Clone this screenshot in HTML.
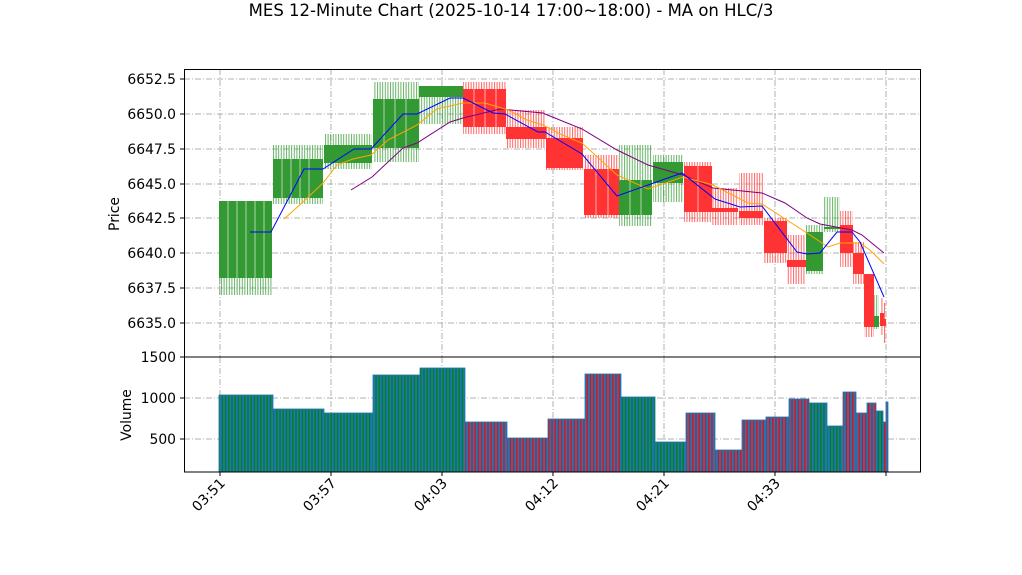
<!DOCTYPE html>
<html><head><meta charset="utf-8"><style>
html,body{margin:0;padding:0;background:#fff;}
svg{display:block;font-family:"DejaVu Sans","Liberation Sans",sans-serif;}
</style></head><body>
<svg width="1022" height="575" viewBox="0 0 1022 575" xmlns="http://www.w3.org/2000/svg">
<defs>
<pattern id="wg" width="2.6" height="10" patternUnits="userSpaceOnUse"><rect x="0" y="0" width="1" height="10" fill="#339933" fill-opacity="0.75"/></pattern>
<pattern id="wr" width="2.6" height="10" patternUnits="userSpaceOnUse"><rect x="0" y="0" width="1" height="10" fill="#ff3333" fill-opacity="0.75"/></pattern>
<pattern id="vg" width="3.2" height="10" patternUnits="userSpaceOnUse"><rect width="3.2" height="10" fill="#1f77b4"/><rect x="1" y="0" width="1.2" height="10" fill="#008000"/></pattern>
<pattern id="vr" width="3.2" height="10" patternUnits="userSpaceOnUse"><rect width="3.2" height="10" fill="#1f77b4"/><rect x="1" y="0" width="1.2" height="10" fill="#ff0000"/></pattern>
</defs>
<text x="511" y="16" text-anchor="middle" font-size="16.5">MES 12-Minute Chart (2025-10-14 17:00~18:00) - MA on HLC/3</text>

<g stroke="#b0b0b0" stroke-width="1" stroke-dasharray="6,2,1,2" fill="none">
<line x1="184" y1="79" x2="920" y2="79"/><line x1="184" y1="114" x2="920" y2="114"/><line x1="184" y1="149" x2="920" y2="149"/><line x1="184" y1="184" x2="920" y2="184"/><line x1="184" y1="218" x2="920" y2="218"/><line x1="184" y1="253" x2="920" y2="253"/><line x1="184" y1="288" x2="920" y2="288"/><line x1="184" y1="323" x2="920" y2="323"/>
<line x1="220" y1="69" x2="220" y2="357"/><line x1="331" y1="69" x2="331" y2="357"/><line x1="442" y1="69" x2="442" y2="357"/><line x1="553" y1="69" x2="553" y2="357"/><line x1="664" y1="69" x2="664" y2="357"/><line x1="775" y1="69" x2="775" y2="357"/><line x1="886" y1="69" x2="886" y2="357"/>
<line x1="184" y1="398" x2="920" y2="398"/><line x1="184" y1="439" x2="920" y2="439"/>
<line x1="220" y1="357" x2="220" y2="472"/><line x1="331" y1="357" x2="331" y2="472"/><line x1="442" y1="357" x2="442" y2="472"/><line x1="553" y1="357" x2="553" y2="472"/><line x1="664" y1="357" x2="664" y2="472"/><line x1="775" y1="357" x2="775" y2="472"/><line x1="886" y1="357" x2="886" y2="472"/>
</g>

<g>
<rect x="219" y="201" width="53" height="94" fill="url(#wg)"/>
<rect x="273" y="145" width="50" height="59" fill="url(#wg)"/>
<rect x="324" y="134" width="48" height="35" fill="url(#wg)"/>
<rect x="373" y="82" width="46" height="80" fill="url(#wg)"/>
<rect x="419" y="86" width="44" height="38" fill="url(#wg)"/>
<rect x="463" y="82" width="43" height="52" fill="url(#wr)"/>
<rect x="506" y="110" width="40" height="38" fill="url(#wr)"/>
<rect x="546" y="127" width="37" height="43" fill="url(#wr)"/>
<rect x="584" y="155" width="35" height="63" fill="url(#wr)"/>
<rect x="619" y="145" width="33" height="81" fill="url(#wg)"/>
<rect x="653" y="155" width="30" height="47" fill="url(#wg)"/>
<rect x="684" y="162" width="28" height="60" fill="url(#wr)"/>
<rect x="712" y="188" width="26" height="37" fill="url(#wr)"/>
<rect x="739" y="173" width="24" height="52" fill="url(#wr)"/>
<rect x="764" y="218" width="23" height="45" fill="url(#wr)"/>
<rect x="787" y="235" width="19" height="49" fill="url(#wr)"/>
<rect x="806" y="225" width="17" height="49" fill="url(#wg)"/>
<rect x="824" y="197" width="16" height="35" fill="url(#wg)"/>
<rect x="840" y="211" width="13" height="56" fill="url(#wr)"/>
<rect x="853" y="242" width="11" height="42" fill="url(#wr)"/>
<rect x="864" y="274" width="10" height="63" fill="url(#wr)"/>
<rect x="874" y="295" width="5" height="34" fill="url(#wg)"/>
<rect x="880" y="298" width="4" height="37" fill="url(#wr)"/>
<rect x="884" y="303" width="2" height="40" fill="url(#wr)"/>
</g>
<g>
<rect x="219" y="201" width="53" height="77" fill="#339933"/>
<rect x="273" y="159" width="50" height="39" fill="#339933"/>
<rect x="324" y="145" width="48" height="18" fill="#339933"/>
<rect x="373" y="99" width="46" height="49" fill="#339933"/>
<rect x="419" y="86" width="44" height="11" fill="#339933"/>
<rect x="463" y="89" width="43" height="38" fill="#ff3333"/>
<rect x="506" y="127" width="40" height="12" fill="#ff3333"/>
<rect x="546" y="138" width="37" height="30" fill="#ff3333"/>
<rect x="584" y="169" width="35" height="46" fill="#ff3333"/>
<rect x="619" y="180" width="33" height="35" fill="#339933"/>
<rect x="653" y="162" width="30" height="21" fill="#339933"/>
<rect x="684" y="166" width="28" height="46" fill="#ff3333"/>
<rect x="712" y="208" width="26" height="4" fill="#ff3333"/>
<rect x="739" y="211" width="24" height="7" fill="#ff3333"/>
<rect x="764" y="221" width="23" height="32" fill="#ff3333"/>
<rect x="787" y="260" width="19" height="7" fill="#ff3333"/>
<rect x="806" y="232" width="17" height="39" fill="#339933"/>
<rect x="824" y="227" width="16" height="2" fill="#339933"/>
<rect x="840" y="225" width="13" height="28" fill="#ff3333"/>
<rect x="853" y="253" width="11" height="21" fill="#ff3333"/>
<rect x="864" y="274" width="10" height="53" fill="#ff3333"/>
<rect x="874" y="316" width="5" height="11" fill="#339933"/>
<rect x="880" y="313" width="4" height="13" fill="#ff3333"/>
<rect x="884" y="319" width="2" height="7" fill="#ff3333"/>
</g>
<g stroke="#fff" stroke-width="1" stroke-opacity="0.6">
<line x1="228" y1="201" x2="228" y2="278"/><line x1="237" y1="201" x2="237" y2="278"/><line x1="246" y1="201" x2="246" y2="278"/><line x1="255" y1="201" x2="255" y2="278"/><line x1="264" y1="201" x2="264" y2="278"/>
<line x1="282" y1="159" x2="282" y2="198"/><line x1="291" y1="159" x2="291" y2="198"/><line x1="300" y1="159" x2="300" y2="198"/><line x1="309" y1="159" x2="309" y2="198"/>
<line x1="384" y1="99" x2="384" y2="148"/><line x1="395" y1="99" x2="395" y2="148"/><line x1="406" y1="99" x2="406" y2="148"/>
<line x1="474" y1="89" x2="474" y2="127"/><line x1="485" y1="89" x2="485" y2="127"/><line x1="496" y1="89" x2="496" y2="127"/>
<line x1="596" y1="169" x2="596" y2="215"/><line x1="608" y1="169" x2="608" y2="215"/>
<line x1="630" y1="180" x2="630" y2="215"/><line x1="641" y1="180" x2="641" y2="215"/>
<line x1="698" y1="166" x2="698" y2="212"/>
</g>

<polyline fill="none" stroke="purple" stroke-width="1" points="351,190 372,177 403,148 417,143 450,122 463,118 500,109 543,113 545,114 582,129 617,150 648,165 683,175 713,188 762,193 785,203 807,218 820,224 852,230 862,235 884,253"/>
<polyline fill="none" stroke="orange" stroke-width="1" points="284,219 303,202 323,183 337,165 353,159 371,155 388,140 417,125 437,109 463,103 485,103 508,110 527,120 543,125 560,134 582,143 617,175 648,189 683,177 713,185 748,203 762,204 807,233 828,247 840,243 860,243 870,250 884,264"/>
<polyline fill="none" stroke="blue" stroke-width="1" points="250,232 271,232 304,169 323,169 354,149 371,149 403,114 417,114 450,98 463,98 493,113 505,114 538,132 545,132 582,154 617,196 682,173 715,199 740,207 762,206 797,252 807,254 820,253 837,232 852,232 860,242 884,297"/>

<g stroke="#1f77b4" stroke-width="0.8">
<rect x="219" y="395" width="54" height="77" fill="url(#vg)"/>
<rect x="273" y="409" width="51" height="63" fill="url(#vg)"/>
<rect x="324" y="413" width="49" height="59" fill="url(#vg)"/>
<rect x="373" y="375" width="47" height="97" fill="url(#vg)"/>
<rect x="420" y="368" width="45" height="104" fill="url(#vg)"/>
<rect x="465" y="422" width="42" height="50" fill="url(#vr)"/>
<rect x="507" y="438" width="41" height="34" fill="url(#vr)"/>
<rect x="548" y="419" width="37" height="53" fill="url(#vr)"/>
<rect x="585" y="374" width="36" height="98" fill="url(#vr)"/>
<rect x="621" y="397" width="34" height="75" fill="url(#vg)"/>
<rect x="655" y="442" width="31" height="30" fill="url(#vg)"/>
<rect x="686" y="413" width="29" height="59" fill="url(#vr)"/>
<rect x="715" y="450" width="27" height="22" fill="url(#vr)"/>
<rect x="742" y="420" width="24" height="52" fill="url(#vr)"/>
<rect x="766" y="417" width="23" height="55" fill="url(#vr)"/>
<rect x="789" y="399" width="20" height="73" fill="url(#vr)"/>
<rect x="809" y="403" width="18" height="69" fill="url(#vg)"/>
<rect x="827" y="426" width="16" height="46" fill="url(#vg)"/>
<rect x="843" y="392" width="13" height="80" fill="url(#vr)"/>
<rect x="856" y="413" width="11" height="59" fill="url(#vr)"/>
<rect x="867" y="403" width="9" height="69" fill="url(#vr)"/>
<rect x="876" y="411" width="7" height="61" fill="url(#vg)"/>
<rect x="883" y="422" width="3" height="50" fill="url(#vr)"/>
<rect x="886" y="402" width="2" height="70" fill="url(#vr)"/>
</g>

<rect x="184.5" y="69.5" width="736" height="287.5" fill="none" stroke="#000" stroke-width="1"/>
<rect x="184.5" y="357" width="736" height="115" fill="none" stroke="#000" stroke-width="1"/>

<g stroke="#000" stroke-width="1">
<line x1="180" y1="79" x2="184" y2="79"/><line x1="180" y1="114" x2="184" y2="114"/><line x1="180" y1="149" x2="184" y2="149"/><line x1="180" y1="184" x2="184" y2="184"/><line x1="180" y1="218" x2="184" y2="218"/><line x1="180" y1="253" x2="184" y2="253"/><line x1="180" y1="288" x2="184" y2="288"/><line x1="180" y1="323" x2="184" y2="323"/>
<line x1="180" y1="357" x2="184" y2="357"/><line x1="180" y1="398" x2="184" y2="398"/><line x1="180" y1="439" x2="184" y2="439"/>
<line x1="220" y1="472" x2="220" y2="476"/><line x1="331" y1="472" x2="331" y2="476"/><line x1="442" y1="472" x2="442" y2="476"/><line x1="553" y1="472" x2="553" y2="476"/><line x1="664" y1="472" x2="664" y2="476"/><line x1="775" y1="472" x2="775" y2="476"/><line x1="886" y1="472" x2="886" y2="476"/>
</g>
<g font-size="13.9" text-anchor="end">
<text x="176" y="84">6652.5</text><text x="176" y="119">6650.0</text><text x="176" y="154">6647.5</text><text x="176" y="189">6645.0</text><text x="176" y="223">6642.5</text><text x="176" y="258">6640.0</text><text x="176" y="293">6637.5</text><text x="176" y="328">6635.0</text>
<text x="176" y="362">1500</text><text x="176" y="403">1000</text><text x="176" y="444">500</text>
</g>
<text transform="translate(119,214) rotate(-90)" font-size="13.9" text-anchor="middle">Price</text>
<text transform="translate(131,415) rotate(-90)" font-size="13.9" text-anchor="middle">Volume</text>
<g font-size="13.9" text-anchor="end">
<text transform="translate(226,484) rotate(-45)">03:51</text>
<text transform="translate(337,484) rotate(-45)">03:57</text>
<text transform="translate(448,484) rotate(-45)">04:03</text>
<text transform="translate(559,484) rotate(-45)">04:12</text>
<text transform="translate(670,484) rotate(-45)">04:21</text>
<text transform="translate(781,484) rotate(-45)">04:33</text>
</g>
</svg>
</body></html>
